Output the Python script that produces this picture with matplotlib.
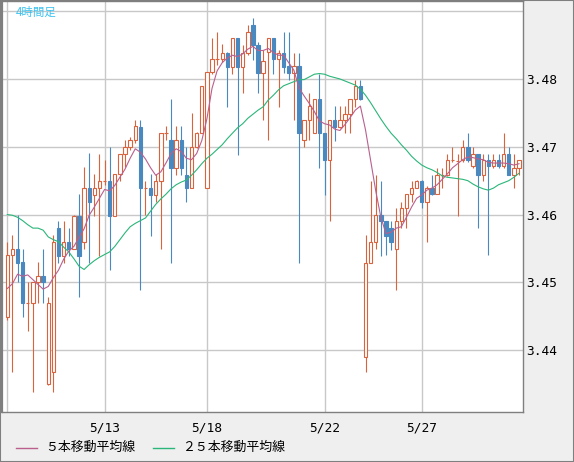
import numpy as np
import matplotlib
matplotlib.use("Agg")
import matplotlib.pyplot as plt
from matplotlib.patches import Rectangle
from matplotlib.lines import Line2D

# 4-hour candles (price)
opens = [3.4449, 3.4540, 3.4549, 3.4530, 3.4469, 3.4470, 3.4500, 3.4509, 3.4350, 3.4368,
         3.4580, 3.4539, 3.4560, 3.4549, 3.4598, 3.4559, 3.4639, 3.4629, 3.4639, 3.4649,
         3.4650, 3.4598, 3.4660, 3.4690, 3.4700, 3.4710, 3.4729, 3.4638, 3.4639, 3.4629,
         3.4649, 3.4719, 3.4710, 3.4669, 3.4710, 3.4659, 3.4639, 3.4700, 3.4720, 3.4639,
         3.4810, 3.4829, 3.4829, 3.4839, 3.4818, 3.4860, 3.4818, 3.4839, 3.4880, 3.4850,
         3.4809, 3.4840, 3.4860, 3.4829, 3.4839, 3.4819, 3.4809, 3.4819, 3.4710, 3.4740,
         3.4720, 3.4770, 3.4720, 3.4680, 3.4740, 3.4729, 3.4740, 3.4749, 3.4770, 3.4789,
         3.4390, 3.4529, 3.4559, 3.4599, 3.4590, 3.4580, 3.4549, 3.4590, 3.4609, 3.4630,
         3.4639, 3.4650, 3.4619, 3.4639, 3.4630, 3.4658, 3.4659, 3.4679, 3.4678, 3.4680,
         3.4699, 3.4671, 3.4689, 3.4659, 3.4680, 3.4671, 3.4680, 3.4671, 3.4689, 3.4659,
         3.4669]
highs = [3.4560, 3.4570, 3.4599, 3.4549, 3.4500, 3.4501, 3.4530, 3.4549, 3.4479, 3.4570,
         3.4591, 3.4591, 3.4580, 3.4600, 3.4630, 3.4670, 3.4691, 3.4660, 3.4690, 3.4681,
         3.4700, 3.4660, 3.4690, 3.4710, 3.4715, 3.4740, 3.4740, 3.4649, 3.4660, 3.4660,
         3.4720, 3.4730, 3.4770, 3.4730, 3.4730, 3.4700, 3.4750, 3.4722, 3.4790, 3.4810,
         3.4860, 3.4870, 3.4851, 3.4840, 3.4860, 3.4861, 3.4850, 3.4880, 3.4890, 3.4855,
         3.4843, 3.4860, 3.4861, 3.4843, 3.4870, 3.4870, 3.4839, 3.4839, 3.4740, 3.4779,
         3.4770, 3.4808, 3.4721, 3.4740, 3.4760, 3.4760, 3.4760, 3.4770, 3.4799, 3.4799,
         3.4570, 3.4649, 3.4659, 3.4649, 3.4591, 3.4591, 3.4609, 3.4619, 3.4630, 3.4650,
         3.4651, 3.4651, 3.4642, 3.4659, 3.4669, 3.4669, 3.4690, 3.4700, 3.4690, 3.4710,
         3.4720, 3.4699, 3.4690, 3.4690, 3.4690, 3.4690, 3.4690, 3.4720, 3.4699, 3.4690,
         3.4680]
lows = [3.4445, 3.4368, 3.4500, 3.4449, 3.4429, 3.4339, 3.4470, 3.4470, 3.4348, 3.4339,
        3.4529, 3.4529, 3.4539, 3.4549, 3.4479, 3.4549, 3.4529, 3.4598, 3.4539, 3.4644,
        3.4518, 3.4598, 3.4650, 3.4670, 3.4695, 3.4705, 3.4489, 3.4599, 3.4568, 3.4619,
        3.4549, 3.4710, 3.4529, 3.4659, 3.4659, 3.4619, 3.4639, 3.4698, 3.4720, 3.4639,
        3.4808, 3.4821, 3.4825, 3.4759, 3.4808, 3.4688, 3.4779, 3.4835, 3.4828, 3.4779,
        3.4740, 3.4710, 3.4808, 3.4759, 3.4809, 3.4799, 3.4740, 3.4529, 3.4699, 3.4710,
        3.4720, 3.4669, 3.4629, 3.4590, 3.4709, 3.4728, 3.4720, 3.4720, 3.4759, 3.4769,
        3.4368, 3.4529, 3.4549, 3.4539, 3.4540, 3.4548, 3.4489, 3.4580, 3.4580, 3.4619,
        3.4639, 3.4609, 3.4559, 3.4629, 3.4630, 3.4639, 3.4657, 3.4678, 3.4598, 3.4678,
        3.4678, 3.4669, 3.4580, 3.4649, 3.4540, 3.4669, 3.4669, 3.4669, 3.4658, 3.4639,
        3.4659]
closes = [3.4540, 3.4549, 3.4529, 3.4470, 3.4471, 3.4500, 3.4509, 3.4500, 3.4470, 3.4560,
          3.4539, 3.4560, 3.4549, 3.4598, 3.4539, 3.4639, 3.4619, 3.4639, 3.4650, 3.4651,
          3.4598, 3.4660, 3.4690, 3.4700, 3.4710, 3.4730, 3.4639, 3.4640, 3.4629, 3.4649,
          3.4720, 3.4721, 3.4669, 3.4710, 3.4669, 3.4639, 3.4700, 3.4720, 3.4790, 3.4810,
          3.4829, 3.4830, 3.4839, 3.4818, 3.4860, 3.4818, 3.4839, 3.4869, 3.4850, 3.4809,
          3.4826, 3.4860, 3.4829, 3.4839, 3.4818, 3.4809, 3.4819, 3.4720, 3.4740, 3.4760,
          3.4770, 3.4720, 3.4680, 3.4740, 3.4729, 3.4740, 3.4749, 3.4770, 3.4789, 3.4770,
          3.4529, 3.4559, 3.4599, 3.4590, 3.4569, 3.4559, 3.4591, 3.4609, 3.4630, 3.4639,
          3.4650, 3.4619, 3.4639, 3.4630, 3.4659, 3.4660, 3.4680, 3.4681, 3.4680, 3.4699,
          3.4680, 3.4689, 3.4659, 3.4680, 3.4671, 3.4680, 3.4671, 3.4689, 3.4659, 3.4669,
          3.4680]

# moving averages as drawn on the chart
ma5 = [3.4491, 3.4498, 3.4512, 3.4509, 3.4511, 3.4504, 3.4497, 3.4490, 3.4494, 3.4507,
       3.4518, 3.4534, 3.4546, 3.4553, 3.4566, 3.4579, 3.4599, 3.4611, 3.4624, 3.4637,
       3.4635, 3.4643, 3.4655, 3.4667, 3.4683, 3.4697, 3.4692, 3.4682, 3.4669, 3.4658,
       3.4663, 3.4676, 3.4690, 3.4697, 3.4693, 3.4683, 3.4681, 3.4690, 3.4709, 3.4741,
       3.4786, 3.4812, 3.4824, 3.4831, 3.4835, 3.4833, 3.4837, 3.4844, 3.4848, 3.4842,
       3.4842, 3.4845, 3.4839, 3.4835, 3.4835, 3.4824, 3.4813, 3.4787, 3.4775, 3.4764,
       3.4752, 3.4738, 3.4734, 3.4732, 3.4726, 3.4724, 3.4733, 3.4743, 3.4754, 3.4760,
       3.4725, 3.4680, 3.4635, 3.4596, 3.4572, 3.4574, 3.4580, 3.4582, 3.4596, 3.4611,
       3.4624, 3.4629, 3.4636, 3.4639, 3.4644, 3.4652, 3.4660, 3.4669, 3.4675, 3.4681,
       3.4685, 3.4684, 3.4682, 3.4681, 3.4677, 3.4676, 3.4676, 3.4676, 3.4675, 3.4673,
       3.4675]
ma25 = [3.4600, 3.4599, 3.4596, 3.4591, 3.4585, 3.4580, 3.4580, 3.4577, 3.4567, 3.4563,
        3.4560, 3.4552, 3.4545, 3.4535, 3.4524, 3.4519, 3.4526, 3.4532, 3.4537, 3.4541,
        3.4545, 3.4553, 3.4563, 3.4573, 3.4582, 3.4587, 3.4591, 3.4595, 3.4605, 3.4615,
        3.4623, 3.4630, 3.4638, 3.4644, 3.4648, 3.4651, 3.4658, 3.4666, 3.4675, 3.4683,
        3.4689, 3.4696, 3.4703, 3.4712, 3.4720, 3.4728, 3.4734, 3.4742, 3.4748, 3.4754,
        3.4759, 3.4769, 3.4776, 3.4784, 3.4790, 3.4793, 3.4796, 3.4799, 3.4799, 3.4803,
        3.4807, 3.4808, 3.4807, 3.4804, 3.4802, 3.4800, 3.4797, 3.4794, 3.4791, 3.4785,
        3.4776, 3.4765, 3.4753, 3.4741, 3.4730, 3.4720, 3.4712, 3.4703, 3.4695, 3.4686,
        3.4679, 3.4673, 3.4669, 3.4666, 3.4662, 3.4657, 3.4655, 3.4654, 3.4653, 3.4652,
        3.4650, 3.4645, 3.4641, 3.4638, 3.4636, 3.4639, 3.4644, 3.4647, 3.4650, 3.4655,
        3.4661]

date_pos = [19, 39, 62, 81]
date_labels = ["5/13", "5/18", "5/22", "5/27"]
price_grid = [3.44, 3.45, 3.46, 3.47, 3.48, 3.49]
price_labels = [3.44, 3.45, 3.46, 3.47, 3.48]

UP = "#d9633d"
DOWN = "#4a89bf"
MA5_C = "#b9608e"
MA25_C = "#2ab679"
GRID = "#c8c8c8"
FRAME = "#7f7f7f"

W, H = 574, 462
fig = plt.figure(figsize=(W / 100, H / 100), dpi=100, facecolor="#efefef")
ax = fig.add_axes([2 / W, 1 - 412 / H, 521 / W, 411 / H])
ax.set_facecolor("white")

x = np.arange(len(opens))
ax.set_xlim(-1.04, 100.78)
ax.set_ylim(3.43088, 3.49150)

# grid
for g in price_grid:
    ax.axhline(g, color=GRID, lw=1.0, zorder=0)
for g in [0] + date_pos:
    ax.axvline(g, color=GRID, lw=1.0, zorder=0)

# candles
bw = 0.66
lw = 0.8
for i in x:
    o, h, l, c = opens[i], highs[i], lows[i], closes[i]
    col = UP if c >= o else DOWN
    ax.vlines(i, l, h, color=col, lw=lw, zorder=2)
    lo, hi = min(o, c), max(o, c)
    if hi - lo < 0.00025:
        ax.hlines((o + c) / 2, i - bw / 2, i + bw / 2, color=col, lw=lw, zorder=3)
    elif c >= o:
        ax.add_patch(Rectangle((i - bw / 2, lo), bw, hi - lo, facecolor="white",
                               edgecolor=col, lw=lw, zorder=3))
    else:
        ax.add_patch(Rectangle((i - bw / 2, lo), bw, hi - lo, facecolor=col,
                               edgecolor=col, lw=lw, zorder=3))

ax.plot(x, ma25, color=MA25_C, lw=0.8, zorder=4)
ax.plot(x, ma5, color=MA5_C, lw=0.8, zorder=4)

# axes, ticks
for s in ax.spines.values():
    s.set_color(FRAME)
    s.set_linewidth(1.0)
ax.spines["left"].set_linewidth(1.6)
ax.yaxis.tick_right()
ax.set_yticks(price_labels)
ax.set_yticklabels(["%.2f" % v for v in price_labels])
ax.set_xticks(date_pos)
ax.set_xticklabels(date_labels)
ax.tick_params(length=0, labelsize=9.3, colors="black")
ax.tick_params(axis="y", pad=2.5)
ax.tick_params(axis="x", pad=7)
for t in ax.get_xticklabels() + ax.get_yticklabels():
    t.set_family("DejaVu Sans Mono")

ax.text(14 / 521, 1 - 11 / 411, "4時間足", transform=ax.transAxes, color="#3cc3f0",
        fontsize=8.3, family=["Noto Sans CJK JP", "DejaVu Sans"], va="center", ha="left")

# legend
ly = 1 - 447.5 / H
fig.add_artist(Line2D([16 / W, 37 / W], [ly, ly], color=MA5_C, lw=1.0))
fig.text(45 / W, ly, "５本移動平均線", fontsize=9.3, va="center", ha="left",
         family=["Noto Sans CJK JP", "DejaVu Sans"])
fig.add_artist(Line2D([153 / W, 174 / W], [ly, ly], color=MA25_C, lw=1.0))
fig.text(182 / W, ly, "２５本移動平均線", fontsize=9.3, va="center", ha="left",
         family=["Noto Sans CJK JP", "DejaVu Sans"])

# outer border
fig.add_artist(Rectangle((0, 0), 1, 1, transform=fig.transFigure, fill=False,
                         edgecolor=FRAME, lw=1.5))

fig.savefig("out.png", dpi=100, facecolor=fig.get_facecolor())
